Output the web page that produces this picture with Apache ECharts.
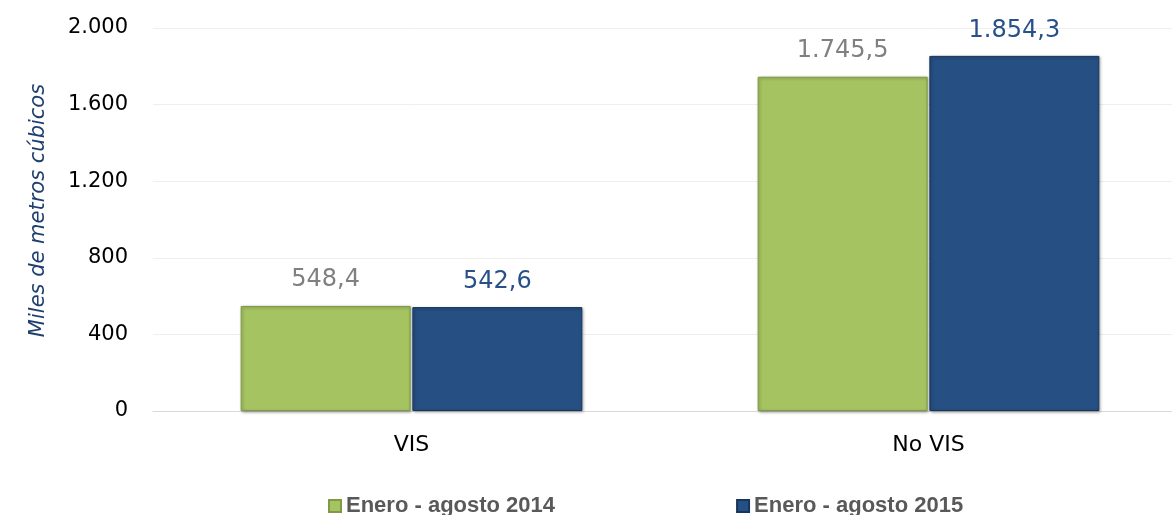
<!DOCTYPE html>
<html>
<head>
<meta charset="utf-8">
<script src="https://cdn.jsdelivr.net/npm/echarts@6/dist/echarts.min.js"></script>
<style>
  html, body { margin: 0; padding: 0; background: #fff; overflow: hidden; }
  #chart { width: 1187px; height: 515px; }
</style>
</head>
<body>
<div id="chart"></div>
<script>
// datos
const categories = ['VIS', 'No VIS']
const serie2014 = [548.4, 1745.5]
const serie2015 = [542.6, 1854.3]
const seriesNames = ['Enero - agosto 2014', 'Enero - agosto 2015']
const yTicks = [0, 400, 800, 1200, 1600, 2000]

// 1.854,3 / 2.000
const fmtMiles = (v, dec) => {
  const parts = v.toFixed(dec).split('.')
  parts[0] = parts[0].replace(/\B(?=(\d{3})+(?!\d))/g, '.')
  return parts.join(',')
}

const chart = echarts.init(document.getElementById('chart'))

const barStyle = (color, border) => ({
  color: color,
  borderColor: border,
  borderWidth: 1,
  shadowColor: 'rgba(0,0,0,0.35)',
  shadowBlur: 3,
  shadowOffsetX: 1,
  shadowOffsetY: 1
})

const option = {
  animation: false,
  textStyle: { fontFamily: 'DejaVu Sans' },
  grid: {
    left: 153,
    top: 28,
    right: 0,
    height: 383,
    containLabel: false
  },
  legend: {
    left: 323,
    top: 490,
    itemWidth: 12,
    itemHeight: 12,
    itemGap: 181,
    icon: 'rect',
    textStyle: {
      fontFamily: 'Liberation Sans',
      fontWeight: 'bold',
      fontSize: 22,
      color: '#595959'
    },
    data: seriesNames
  },
  xAxis: {
    type: 'category',
    data: categories,
    axisLine: { lineStyle: { color: '#d9d9d9', width: 1 } },
    axisTick: { show: false },
    axisLabel: { color: '#000', fontSize: 22, margin: 23 }
  },
  yAxis: {
    type: 'value',
    min: yTicks[0],
    max: yTicks[yTicks.length - 1],
    interval: 400,
    name: 'Miles de metros cúbicos',
    nameLocation: 'middle',
    nameGap: 104,
    nameTextStyle: {
      fontStyle: 'italic',
      fontSize: 21,
      color: '#1f3f6e',
      padding: [0, 0, 0, 18]
    },
    axisLine: { show: false },
    axisTick: { show: false },
    axisLabel: {
      color: '#000',
      fontSize: 21,
      margin: 25,
      formatter: v => fmtMiles(v, 0)
    },
    splitLine: { lineStyle: { color: '#eeeeee', width: 1 } }
  },
  series: [
    {
      name: seriesNames[0],
      type: 'bar',
      data: serie2014,
      barWidth: 170,
      barGap: '1%',
      itemStyle: barStyle('#a5c461', '#7f9a45'),
      label: {
        show: true,
        position: 'top',
        distance: 14,
        fontSize: 24,
        color: '#808080',
        formatter: p => fmtMiles(p.value, 1)
      }
    },
    {
      name: seriesNames[1],
      type: 'bar',
      data: serie2015,
      barWidth: 170,
      itemStyle: barStyle('#264f83', '#17365d'),
      label: {
        show: true,
        position: 'top',
        distance: 13,
        fontSize: 24,
        color: '#28518a',
        formatter: p => fmtMiles(p.value, 1)
      }
    }
  ]
}

chart.setOption(option)
</script>
</body>
</html>
